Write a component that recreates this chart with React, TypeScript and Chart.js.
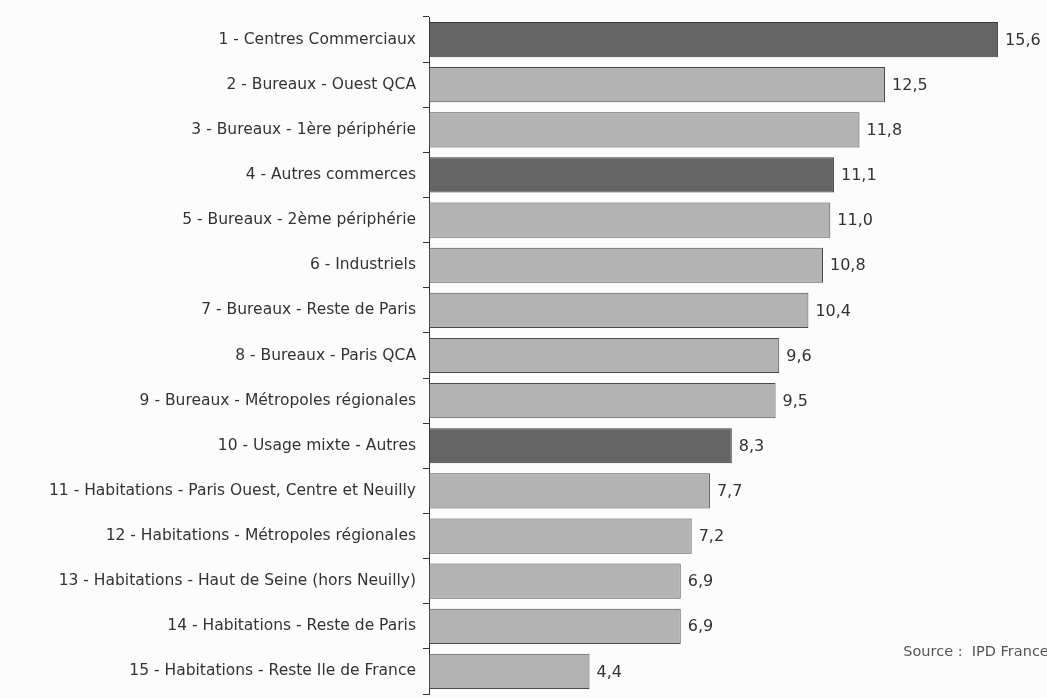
import React, { useEffect, useRef } from "react";
import { Chart, registerables } from "chart.js";

Chart.register(...registerables);

const categories: string[] = [
  "1 - Centres Commerciaux",
  "2 - Bureaux - Ouest QCA",
  "3 - Bureaux - 1ère périphérie",
  "4 - Autres commerces",
  "5 - Bureaux - 2ème périphérie",
  "6 - Industriels",
  "7 - Bureaux - Reste de Paris",
  "8 - Bureaux - Paris QCA",
  "9 - Bureaux - Métropoles régionales",
  "10 - Usage mixte - Autres",
  "11 - Habitations - Paris Ouest, Centre et Neuilly",
  "12 - Habitations - Métropoles régionales",
  "13 - Habitations - Haut de Seine (hors Neuilly)",
  "14 - Habitations - Reste de Paris",
  "15 - Habitations - Reste Ile de France",
];

const values: number[] = [15.6, 12.5, 11.8, 11.1, 11.0, 10.8, 10.4, 9.6, 9.5, 8.3, 7.7, 7.2, 6.9, 6.9, 4.4];

const highlighted: boolean[] = [true, false, false, true, false, false, false, false, false, true, false, false, false, false, false];

const sourceText = "Source :  IPD France";

const FONT = "'DejaVu Sans', sans-serif";

export default function App() {
  const ref = useRef<HTMLCanvasElement | null>(null);

  useEffect(() => {
    if (!ref.current) return;
    const labelPlugin = {
      id: "valueLabels",
      afterDatasetsDraw(chart: any) {
        const ctx = chart.ctx;
        const meta = chart.getDatasetMeta(0);
        ctx.save();
        ctx.font = `16px ${FONT}`;
        ctx.fillStyle = "#333";
        ctx.textAlign = "left";
        ctx.textBaseline = "middle";
        meta.data.forEach((bar: any, i: number) => {
          const txt = values[i].toFixed(1).replace(".", ",");
          ctx.fillText(txt, bar.x + 7, bar.y + 1);
        });
        ctx.font = `14.5px ${FONT}`;
        ctx.fillStyle = "#555";
        const xs = chart.scales.x;
        const ys = chart.scales.y;
        const yMid = (ys.getPixelForValue(13) + ys.getPixelForValue(14)) / 2 + 3;
        ctx.fillText(sourceText, xs.getPixelForValue(13.0), yMid);
        ctx.restore();
      },
    };

    const chart = new Chart(ref.current, {
      type: "bar",
      data: {
        labels: categories,
        datasets: [
          {
            data: values,
            backgroundColor: highlighted.map((h) => (h ? "#656565" : "#b3b3b3")),
            borderColor: highlighted.map((h) => (h ? "#3a3a3a" : "#4a4a4a")),
            borderWidth: 1,
            borderSkipped: false,
            barPercentage: 0.78,
            categoryPercentage: 1,
          },
        ],
      },
      options: {
        indexAxis: "y",
        animation: false,
        responsive: true,
        maintainAspectRatio: false,
        layout: { padding: { top: 17, bottom: 4, left: 0, right: 0 } },
        plugins: { legend: { display: false }, tooltip: { enabled: false } },
        scales: {
          x: {
            display: false,
            min: 0,
            max: 16.94,
          },
          y: {
            afterFit(scale: any) {
              scale.width = 429;
              scale.paddingTop = 0;
              scale.paddingBottom = 0;
            },
            grid: {
              offset: true,
              drawOnChartArea: false,
              drawTicks: true,
              tickLength: 6,
              color: "#333",
            },
            border: { display: true, color: "#333", width: 1 },
            ticks: {
              color: "#333",
              padding: 7,
              font: { family: FONT, size: 15.5 },
            },
          },
        },
      },
      plugins: [labelPlugin],
    });
    return () => chart.destroy();
  }, []);

  return (
    <div style={{ position: "fixed", left: 0, top: 0, width: 1047, height: 698, background: "#fcfcfc" }}>
      <canvas ref={ref} />
    </div>
  );
}
